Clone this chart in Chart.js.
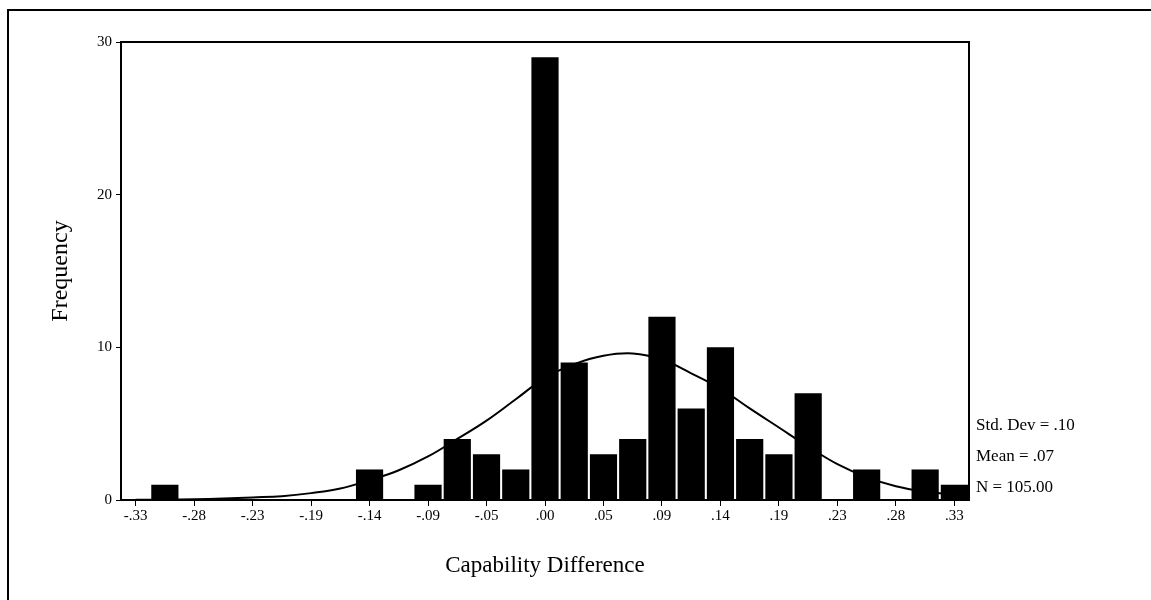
<!DOCTYPE html>
<html>
<head>
<meta charset="utf-8">
<script src="https://cdn.jsdelivr.net/npm/chart.js@4.4.1/dist/chart.umd.min.js"></script>
<style>
    html, body { margin: 0; padding: 0; background: #fff; overflow: hidden; }
    #frame { position: absolute; left: 7px; top: 9px; width: 1200px; height: 650px; border: 2px solid #000; }
    #wrap { position: absolute; left: 0; top: 0; width: 1151px; height: 600px; }
</style>
</head>
<body>
<div id="frame"></div>
<div id="wrap"><canvas id="histChart" width="1151" height="600"></canvas></div>
<script>
// Histogram of capability difference, 29 bins from -.33 to .33
const tickLabels = ['-.33', '-.28', '-.23', '-.19', '-.14', '-.09', '-.05', '.00',
                    '.05', '.09', '.14', '.19', '.23', '.28', '.33'];

const counts = [0, 1, 0, 0, 0, 0, 0, 0, 2, 0, 1, 4, 3, 2, 29,
                9, 3, 4, 12, 6, 10, 4, 3, 7, 0, 2, 0, 2, 1];

// normal curve heights read at each bin centre
const normalCurve = [0.02, 0.03, 0.05, 0.1, 0.17, 0.25, 0.45, 0.75, 1.3, 1.95, 2.85, 4.0, 5.2, 6.6, 8.0,
                     8.9, 9.45, 9.6, 9.2, 8.3, 7.3, 6.0, 4.75, 3.5, 2.35, 1.5, 0.9, 0.55, 0.35];

const statsLines = ['Std. Dev = .10', 'Mean = .07', 'N = 105.00'];

const serif = '"Liberation Serif", "Times New Roman", serif';

// top/right border of the plot box and the summary text
const boxPlugin = {
    id: 'box',
    afterDraw(chart) {
        const { ctx, chartArea: a } = chart;
        ctx.save();
        ctx.strokeStyle = '#000';
        ctx.lineWidth = 2;
        ctx.beginPath();
        ctx.moveTo(a.left, a.top);
        ctx.lineTo(a.right, a.top);
        ctx.lineTo(a.right, a.bottom);
        ctx.stroke();
        ctx.fillStyle = '#000';
        ctx.font = '17px ' + serif;
        ctx.textBaseline = 'alphabetic';
        statsLines.forEach((t, i) => ctx.fillText(t, a.right + 7, a.bottom - 70 + i * 31));
        ctx.restore();
    }
};

const ctx = document.getElementById('histChart').getContext('2d');
new Chart(ctx, {
    type: 'bar',
    data: {
        labels: counts.map((_, i) => i),
        datasets: [{
            type: 'line',
            data: normalCurve,
            borderColor: '#000',
            borderWidth: 2,
            pointRadius: 0,
            tension: 0.4,
            fill: false,
            order: 0
        }, {
            data: counts,
            backgroundColor: '#000',
            barPercentage: 0.93,
            categoryPercentage: 1.0,
            order: 1
        }]
    },
    options: {
        responsive: false,
        animation: false,
        devicePixelRatio: 1,
        layout: { padding: { left: 0, top: 42, right: 182, bottom: 10 } },
        plugins: { legend: { display: false }, tooltip: { enabled: false } },
        scales: {
            x: {
                offset: true,
                grid: {
                    offset: false,
                    drawOnChartArea: false,
                    drawTicks: true,
                    tickLength: 6,
                    color: c => (c.index % 2 === 0 ? '#000' : 'rgba(0,0,0,0)')
                },
                border: { color: '#000', width: 2 },
                ticks: {
                    autoSkip: false,
                    maxRotation: 0,
                    padding: 1,
                    color: '#000',
                    font: { family: serif, size: 15 },
                    callback: (v, i) => (i % 2 === 0 ? tickLabels[i / 2] : '')
                },
                title: {
                    display: true,
                    text: 'Capability Difference',
                    color: '#000',
                    font: { family: serif, size: 23 },
                    padding: { top: 0, bottom: 10 }
                },
                afterFit: s => { s.height = 90; }
            },
            y: {
                min: 0,
                max: 30,
                grid: { drawOnChartArea: false, tickLength: 5, color: '#000' },
                border: { color: '#000', width: 2 },
                ticks: {
                    stepSize: 10,
                    padding: 4,
                    color: '#000',
                    font: { family: serif, size: 15 }
                },
                title: {
                    display: true,
                    text: 'Frequency',
                    color: '#000',
                    font: { family: serif, size: 24 },
                    padding: { top: 46, bottom: 0 }
                },
                afterFit: s => { s.width = 121; }
            }
        }
    },
    plugins: [boxPlugin]
});
</script>
</body>
</html>
